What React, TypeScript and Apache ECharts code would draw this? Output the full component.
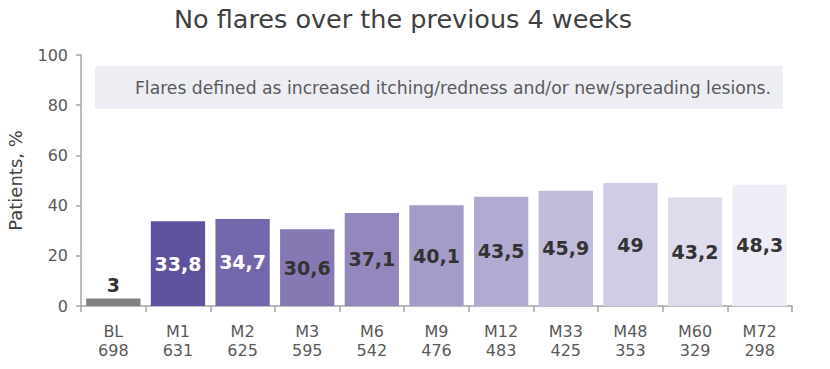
import React, { useEffect, useRef } from "react";
import * as echarts from "echarts";

const categories = ["BL", "M1", "M2", "M3", "M6", "M9", "M12", "M33", "M48", "M60", "M72"];
const patientCounts = ["698", "631", "625", "595", "542", "476", "483", "425", "353", "329", "298"];
const values = [3, 33.8, 34.7, 30.6, 37.1, 40.1, 43.5, 45.9, 49, 43.2, 48.3];
const barColors = ["#808080", "#5f519e", "#7366aa", "#8578b3", "#9487be", "#a39bc8", "#b1aad1", "#c1bbdb", "#d0cce5", "#dedbec", "#eeecf6"];
const labelColors = ["#333333", "#ffffff", "#ffffff", "#333333", "#333333", "#333333", "#333333", "#333333", "#333333", "#333333", "#333333"];
const yTicks = [0, 20, 40, 60, 80, 100];

const FONT = "DejaVu Sans";

export default function App() {
  const ref = useRef<HTMLDivElement>(null);
  useEffect(() => {
    if (!ref.current) return;
    const chart = echarts.init(ref.current, undefined, { renderer: "svg" });
    chart.setOption({
      animation: false,
      title: {
        text: "No flares over the previous 4 weeks",
        left: 403,
        textAlign: "center",
        top: 6,
        padding: 0,
        textStyle: { fontFamily: FONT, fontSize: 25.5, fontWeight: "normal", color: "#404040" },
      },
      graphic: [
        {
          type: "rect",
          shape: { x: 95, y: 66, width: 688, height: 43, r: 2 },
          style: { fill: "#ededf4" },
          z: 0,
        },
        {
          type: "text",
          x: 453,
          y: 88,
          style: {
            text: "Flares defined as increased itching/redness and/or new/spreading lesions.",
            fontFamily: FONT,
            fontSize: 17.2,
            fill: "#595959",
            align: "center",
            verticalAlign: "middle",
          },
          z: 1,
        },
      ],
      grid: { left: 81, right: 38, top: 55, bottom: 63, outerBoundsMode: "none", containLabel: false },
      xAxis: {
        type: "category",
        data: categories.map((c, i) => c + "\n" + patientCounts[i]),
        axisLine: { lineStyle: { color: "#a6a6a6", width: 1.5 } },
        axisTick: { show: true, length: 6, lineStyle: { color: "#a6a6a6", width: 1.5 } },
        axisLabel: { fontFamily: FONT, fontSize: 16, lineHeight: 19, color: "#595959", margin: 16 },
      },
      yAxis: {
        type: "value",
        min: yTicks[0],
        max: yTicks[yTicks.length - 1],
        interval: 20,
        name: "Patients, %",
        nameLocation: "middle",
        nameGap: 57,
        nameTextStyle: { fontFamily: FONT, fontSize: 18, color: "#404040" },
        axisLine: { show: true, lineStyle: { color: "#a6a6a6", width: 1.5 } },
        axisTick: { show: true, length: 5, lineStyle: { color: "#a6a6a6", width: 1.5 } },
        splitLine: { show: false },
        axisLabel: { fontFamily: FONT, fontSize: 16, color: "#595959", margin: 13 },
      },
      series: [
        {
          type: "bar",
          barCategoryGap: "16%",
          data: values.map((v, i) => ({
            value: v,
            itemStyle: { color: barColors[i] },
            label: {
              show: true,
              position: i === 0 ? "top" : "inside",
              color: labelColors[i],
              distance: 4,
            },
          })),
          label: {
            show: true,
            fontFamily: "DejaVu Sans",
            fontWeight: "bold",
            fontSize: 19,
            formatter: (p: any) => String(p.value).replace(".", ","),
          },
        },
      ],
    });
    return () => chart.dispose();
  }, []);
  return (
    <div
      ref={ref}
      style={{ position: "absolute", left: 0, top: 0, width: 830, height: 369 }}
    />
  );
}
